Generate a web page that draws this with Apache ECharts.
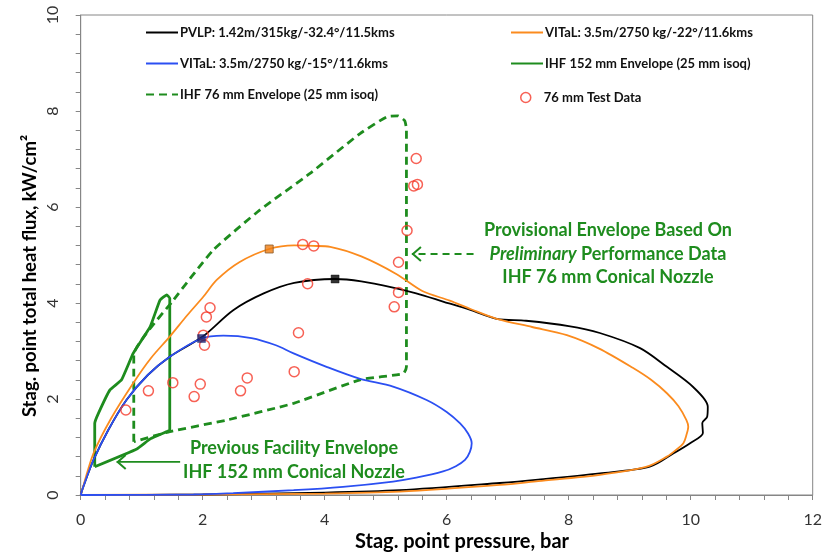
<!DOCTYPE html>
<html>
<head>
<meta charset="utf-8">
<script src="https://cdn.jsdelivr.net/npm/echarts@6/dist/echarts.min.js"></script>
<style>html,body{margin:0;padding:0;background:#fff}#c{width:833px;height:560px}</style>
</head>
<body>
<div id="c"></div>
<script>
// ---- data (x = stag. point pressure [bar], y = stag. point total heat flux [kW/cm2]) ----
const pvlp = [[0,0],[0.05,0.2],[0.21,0.73],[0.45,1.35],[0.75,1.98],[1.1,2.5],[1.46,2.88],[2.0,3.3],[2.5,3.85],[3.0,4.2],[3.5,4.42],[4.17,4.5],[4.6,4.45],[5.12,4.32],[5.5,4.2],[5.94,4.03],[6.4,3.85],[6.82,3.67],[7.3,3.63],[8.0,3.52],[8.51,3.375],[9.17,3.06],[9.61,2.67],[10.04,2.25],[10.28,1.84],[10.27,1.63],[10.19,1.5],[10.2,1.29],[9.99,1.08],[9.72,0.87],[9.33,0.59],[8.51,0.45],[7.5,0.32],[6.87,0.25],[5.23,0.1],[4.0,0.05],[2.0,0.01],[0,0]];
const vital22 = [[0,0],[0.05,0.22],[0.21,0.87],[0.5,1.6],[0.86,2.33],[1.15,2.85],[1.46,3.3],[1.75,3.75],[2.01,4.13],[2.23,4.48],[2.6,4.85],[3.09,5.125],[3.5,5.2],[3.81,5.19],[4.09,5.17],[4.6,4.97],[5.18,4.6],[5.6,4.25],[6.05,4.05],[6.4,3.87],[6.82,3.67],[7.4,3.5],[7.97,3.33],[8.5,3.05],[9.05,2.65],[9.35,2.4],[9.61,2.12],[9.8,1.85],[9.93,1.56],[9.96,1.42],[9.93,1.25],[9.88,1.08],[9.75,0.93],[9.61,0.8],[9.28,0.59],[8.51,0.42],[7.5,0.29],[6.87,0.21],[5.23,0.07],[4.0,0.03],[2.0,0.01],[0,0]];
const vital15 = [[0,0],[0.05,0.2],[0.21,0.73],[0.45,1.35],[0.75,1.98],[1.1,2.5],[1.46,2.88],[1.98,3.26],[2.34,3.32],[2.8,3.27],[3.2,3.12],[3.49,2.95],[4.03,2.67],[4.58,2.42],[5.12,2.26],[5.67,1.98],[6.0,1.73],[6.22,1.49],[6.35,1.28],[6.41,1.08],[6.38,0.9],[6.3,0.73],[6.15,0.6],[5.94,0.49],[5.5,0.36],[5.12,0.28],[4.3,0.17],[3.49,0.1],[2.5,0.04],[1.85,0.01],[0,0]];
const ihf152 = [[0.23,0.59],[0.23,1.49],[0.29,1.7],[0.48,2.19],[0.67,2.4],[0.86,2.95],[1.14,3.51],[1.3,4.06],[1.41,4.17],[1.46,4.1],[1.46,1.35],[1.41,1.32],[1.14,1.17],[0.92,0.96],[0.23,0.59]];
const ihf76 = [[0.87,1.11],[0.87,2.92],[1.52,4.06],[2.17,5.1],[2.94,5.94],[3.76,6.7],[4.58,7.53],[5.02,7.88],[5.2,7.9],[5.31,7.8],[5.34,7.62],[5.34,2.67],[5.29,2.53],[4.58,2.4],[3.49,1.91],[2.39,1.56],[1.46,1.32],[0.87,1.11]];
const testData = [[0.74,1.77],[1.11,2.17],[1.51,2.34],[1.86,2.05],[1.96,2.31],[2.01,3.33],[2.03,3.12],[2.06,3.71],[2.12,3.9],[2.62,2.17],[2.73,2.44],[3.5,2.57],[3.57,3.38],[3.72,4.4],[3.64,5.22],[3.82,5.19],[5.14,3.92],[5.21,4.22],[5.21,4.85],[5.35,5.51],[5.46,6.44],[5.52,6.47],[5.5,7.01]];
const markPvlp = [[4.17,4.5]];
const markV22 = [[3.09,5.125]];
const markV15 = [[1.98,3.26]];
// annotation arrows: [from x, to x, y, dashed]
const arrows = [[1.63,0.59,0.69,0],[6.44,5.43,5.02,1]];

const names = {
  pvlp: 'PVLP: 1.42m/315kg/-32.4°/11.5kms',
  v22: 'VITaL: 3.5m/2750 kg/-22°/11.6kms',
  v15: 'VITaL: 3.5m/2750 kg/-15°/11.6kms',
  i152: 'IHF 152 mm Envelope (25 mm isoq)',
  i76: 'IHF 76 mm Envelope (25 mm isoq)',
  td: '76 mm Test Data'
};

const GREEN = '#1e8c1e', ORANGE = '#fb8b1e', BLUE = '#2b4ff2', RED = '#f5392b';
const FONT = 'Lato';
const chart = echarts.init(document.getElementById('c'), null, {renderer: 'canvas'});
const legendText = {fontFamily: FONT, fontWeight: 'bold', fontSize: 13, color: '#111', padding: [0,0,0,-3]};
const axisCommon = {
  axisLine: {lineStyle: {color: '#868686', width: 1}},
  axisTick: {show: true, inside: false, length: 5, lineStyle: {color: '#868686'}},
  minorTick: {show: true, splitNumber: 5, length: 5, lineStyle: {color: '#868686'}},
  splitLine: {show: false},
  axisLabel: {fontFamily: FONT, fontSize: 16, color: '#333'}
};
chart.setOption({
  animation: false,
  grid: {left: 80.7, right: 20.3, top: 15, bottom: 65, show: true, borderColor: '#868686', borderWidth: 1},
  xAxis: Object.assign({}, axisCommon, {type: 'value', min: 0, max: 12, interval: 2,
    axisLabel: Object.assign({}, axisCommon.axisLabel, {margin: 17})}),
  yAxis: Object.assign({}, axisCommon, {type: 'value', min: 0, max: 10, interval: 2,
    axisLabel: Object.assign({}, axisCommon.axisLabel, {rotate: 90, margin: 20})}),
  legend: [
    {orient: 'vertical', left: 140, top: 21, itemWidth: 32, itemHeight: 14, itemGap: 18,
     itemStyle: {opacity: 0}, textStyle: legendText, data: [names.pvlp, names.v15, names.i76]},
    {orient: 'vertical', left: 505, top: 21, itemWidth: 32, itemHeight: 14, itemGap: 18,
     itemStyle: {opacity: 0}, textStyle: legendText, data: [names.v22, names.i152]},
    {orient: 'vertical', left: 515, top: 86, itemWidth: 10, itemHeight: 10,
     itemStyle: {color: 'rgba(255,255,255,0)', borderColor: RED, borderWidth: 1.5},
     textStyle: Object.assign({}, legendText, {padding: [0,0,0,8]}), data: [{name: names.td, icon: 'circle'}]}
  ],
  series: [
    {name: names.pvlp, type: 'line', data: pvlp, symbol: 'none', smooth: 0.3, z: 3,
     lineStyle: {color: '#000', width: 1.8}, itemStyle: {color: '#000'}},
    {name: names.v22, type: 'line', data: vital22, symbol: 'none', smooth: 0.3, z: 3,
     lineStyle: {color: ORANGE, width: 1.8}, itemStyle: {color: ORANGE}},
    {name: names.v15, type: 'line', data: vital15, symbol: 'none', smooth: 0.3, z: 3,
     lineStyle: {color: BLUE, width: 1.8}, itemStyle: {color: BLUE}},
    {name: names.i152, type: 'line', data: ihf152, symbol: 'none', smooth: 0.1, z: 2,
     lineStyle: {color: GREEN, width: 2.8}, itemStyle: {color: GREEN}},
    {name: names.i76, type: 'line', data: ihf76, symbol: 'none', smooth: 0.15, z: 2,
     lineStyle: {color: GREEN, width: 2.8, type: [8, 5]}, itemStyle: {color: GREEN}},
    {name: names.td, type: 'scatter', data: testData, symbol: 'circle', symbolSize: 10, z: 4,
     itemStyle: {color: 'rgba(255,255,255,0)', borderColor: RED, borderWidth: 1.5}},
    {name: 'mPvlp', type: 'scatter', data: markPvlp, symbol: 'rect', symbolSize: 8, z: 5,
     itemStyle: {color: '#000', borderColor: '#000', borderWidth: 0.5}},
    {name: 'mV22', type: 'scatter', data: markV22, symbol: 'rect', symbolSize: 8, z: 5,
     itemStyle: {color: '#f07d10', borderColor: '#8a5a2a', borderWidth: 1}},
    {name: 'mV15', type: 'scatter', data: markV15, symbol: 'rect', symbolSize: 8, z: 5,
     itemStyle: {color: '#1b2370', borderColor: '#1b2370', borderWidth: 0.5}},
    {name: 'arrows', type: 'custom', data: arrows, encode: {x: [0, 1], y: 2}, z: 4,
     renderItem: function (params, api) {
       const p0 = api.coord([api.value(0), api.value(2)]);
       const p1 = api.coord([api.value(1), api.value(2)]);
       const dashed = api.value(3) === 1;
       const st = {stroke: GREEN, lineWidth: dashed ? 2 : 1.6, fill: null};
       return {type: 'group', children: [
         {type: 'line', shape: {x1: p0[0], y1: p0[1], x2: p1[0], y2: p1[1]},
          style: Object.assign({}, st, dashed ? {lineDash: [7, 5]} : {})},
         {type: 'polyline', shape: {points: [[p1[0] + 9, p1[1] - 7], [p1[0] + 1, p1[1]], [p1[0] + 9, p1[1] + 7]]},
          style: Object.assign({}, st, {lineWidth: 2})}
       ]};
     }}
  ],
  graphic: [
    {type: 'text', x: 608, y: 254, style: {
      text: 'Provisional Envelope Based On\n{i|Preliminary} Performance Data\nIHF 76 mm Conical Nozzle',
      textAlign: 'center', textVerticalAlign: 'middle', fill: GREEN, lineHeight: 23.5,
      font: 'bold 18px ' + FONT,
      rich: {i: {fontStyle: 'italic', fontWeight: 'bold', fontSize: 18, fontFamily: FONT, fill: GREEN, lineHeight: 23.5}}
    }},
    {type: 'text', x: 294, y: 460, style: {
      text: 'Previous Facility Envelope\nIHF 152 mm Conical Nozzle',
      textAlign: 'center', textVerticalAlign: 'middle', fill: GREEN, lineHeight: 23.4,
      font: 'bold 18px ' + FONT
    }},
    {type: 'text', x: 462, y: 542, style: {
      text: 'Stag. point pressure, bar', textAlign: 'center', textVerticalAlign: 'middle',
      fill: '#000', font: 'bold 20px ' + FONT
    }},
    {type: 'text', x: 30, y: 276, rotation: Math.PI / 2, style: {
      text: 'Stag. point total heat flux, kW/cm²', textAlign: 'center', textVerticalAlign: 'middle',
      fill: '#000', font: 'bold 18.5px ' + FONT
    }}
  ]
});
</script>
</body>
</html>
